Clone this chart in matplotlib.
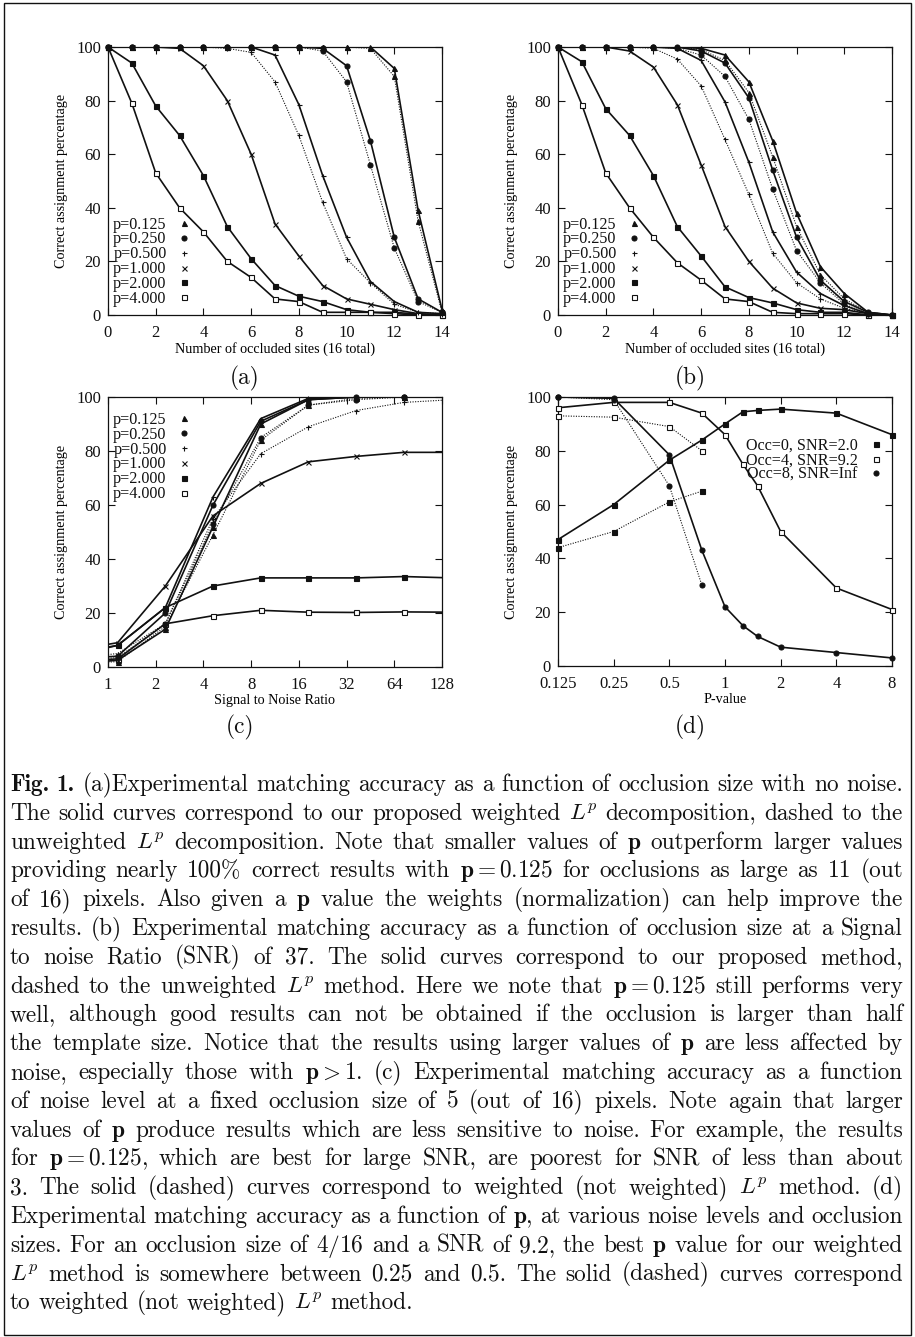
import re

import matplotlib

matplotlib.use("Agg")
import matplotlib.pyplot as plt
import numpy as np
from matplotlib.lines import Line2D
from matplotlib.patches import Rectangle
from matplotlib.ticker import FixedFormatter, FixedLocator, NullLocator

W, H = 915, 1337
INK = "#111111"

plt.rcParams["mathtext.fontset"] = "cm"
plt.rcParams["font.family"] = ["Liberation Serif", "DejaVu Serif"]

# ---- panel (a): occlusion, no noise ----
OCCLUDED = [0, 1, 2, 3, 4, 5, 6, 7, 8, 9, 10, 11, 12, 13, 14]
a_w_0125 = [100, 100, 100, 100, 100, 100, 100, 100, 100, 100, 100, 100, 92, 39, 2]
a_u_0125 = [100, 100, 100, 100, 100, 100, 100, 100, 100, 100, 100, 99.5, 89, 35, 1]
a_w_025 = [100, 100, 100, 100, 100, 100, 100, 100, 100, 99.5, 93, 65, 29, 6, 1]
a_u_025 = [100, 100, 100, 100, 100, 100, 100, 100, 100, 98.5, 87, 56, 25, 5, 1]
a_w_05 = [100, 100, 100, 100, 100, 100, 100, 97, 78.5, 52, 29, 12.5, 5, 1, 0.5]
a_u_05 = [100, 100, 100, 100, 100, 99.5, 98, 87, 67, 42, 21, 12, 4, 1, 0.5]
a_w_1 = [100, 100, 100, 99.5, 93, 80, 60, 34, 22, 11, 6, 4, 2, 0.5, 0]
a_w_2 = [100, 94, 78, 67, 52, 33, 21, 11, 7, 5, 2, 1, 1, 0.3, 0]
a_w_4 = [100, 79, 53, 40, 31, 20, 14, 6, 5, 1, 1, 1, 0.5, 0, 0]

# ---- panel (b): occlusion, SNR 37 ----
b_w_0125 = [100, 100, 100, 100, 100, 100, 99.5, 97, 87, 65, 38, 18, 8, 1, 0]
b_u_0125 = [100, 100, 100, 100, 100, 100, 99, 95, 83, 59, 33, 15, 6, 1, 0]
b_w_025 = [100, 100, 100, 100, 100, 100, 98.5, 94, 81, 54, 29, 13, 5, 1, 0]
b_u_025 = [100, 100, 100, 100, 100, 99.5, 97, 89, 73, 47, 24, 12, 4, 0.5, 0]
b_w_05 = [100, 100, 100, 100, 100, 99.5, 95, 79.5, 57, 31, 16, 8, 3.5, 0.5, 0]
b_u_05 = [100, 100, 100, 100, 99.5, 95.5, 85.5, 65.5, 45, 23, 12, 6, 2.5, 0.5, 0]
b_w_1 = [100, 100, 100, 98.5, 92.5, 78.5, 56, 33, 20, 10, 4.5, 2.5, 2, 0.5, 0]
b_w_2 = [100, 94.5, 77, 67, 52, 33, 22, 10.5, 6.5, 4.5, 2, 1, 1, 0, 0]
b_w_4 = [100, 78.5, 53, 40, 29, 19.5, 13, 6, 5, 1, 0.5, 0.5, 0.5, 0, 0]

# ---- panel (c): noise, occlusion 5 ----
SNR = [0.575, 1.15, 2.3, 4.6, 9.2, 18.4, 36.8, 73.6, 147.2]
c_w_0125 = [1, 2.5, 14, 52, 90, 99, 100, 100, 100]
c_u_0125 = [1, 2, 15, 49, 84, 97, 99.5, 100, 100]
c_w_025 = [3, 4, 20, 60, 91, 99, 100, 100, 100]
c_u_025 = [2, 3.5, 16, 53, 85, 97, 99, 100, 100]
c_w_05 = [4, 8, 22, 63, 92, 99.5, 100, 100, 100]
c_u_05 = [3, 5, 16, 55, 79, 89, 95, 98, 99]
c_w_1 = [6, 9, 30, 56, 68, 76, 78, 79.5, 79.5]
c_w_2 = [5, 8, 22, 30, 33, 33, 33, 33.5, 33]
c_w_4 = [2, 3, 16, 19, 21, 20.3, 20.2, 20.4, 20.3]

# ---- panel (d): accuracy vs p ----
PVAL = [0.125, 0.25, 0.5, 0.75, 1, 1.25, 1.5, 2, 4, 8]
PVAL_U = [0.125, 0.25, 0.5, 0.75]
d_occ0_w = [47, 60, 76.5, 84, 90, 94.5, 95, 95.5, 94, 86]
d_occ0_u = [44, 50, 61, 65]
d_occ4_w = [96, 98, 98, 94, 86, 75, 67, 50, 29, 21]
d_occ4_u = [93, 92.5, 89, 80]
d_occ8_w = [100, 99.5, 78.5, 43, 22, 15, 11, 7, 5, 3]
d_occ8_u = [100, 99, 67, 30]

P_LABELS = ["p=0.125", "p=0.250", "p=0.500", "p=1.000", "p=2.000", "p=4.000"]
P_MARKERS = [("^", True), ("o", True), ("+", True), ("x", True), ("s", True), ("s", False)]
D_LABELS = ["Occ=0, SNR=2.0", "Occ=4, SNR=9.2", "Occ=8, SNR=Inf"]
D_MARKERS = [("s", True), ("s", False), ("o", True)]

TICK_FS = 12
LABEL_FS = 10.2
LEGEND_FS = 11.6
CAP_FS = 16

CAPTION = [
    "Fig. 1. (a)Experimental matching accuracy as a function of occlusion size with no noise.",
    "The solid curves correspond to our proposed weighted $L^p$ decomposition, dashed to the",
    "unweighted $L^p$ decomposition. Note that smaller values of $\\mathbf{p}$ outperform larger values",
    "providing nearly 100% correct results with $\\mathbf{p} = 0.125$ for occlusions as large as 11 (out",
    "of 16) pixels. Also given a $\\mathbf{p}$ value the weights (normalization) can help improve the",
    "results. (b) Experimental matching accuracy as a function of occlusion size at a Signal",
    "to noise Ratio (SNR) of 37. The solid curves correspond to our proposed method,",
    "dashed to the unweighted $L^p$ method. Here we note that $\\mathbf{p} = 0.125$ still performs very",
    "well, although good results can not be obtained if the occlusion is larger than half",
    "the template size. Notice that the results using larger values of $\\mathbf{p}$ are less affected by",
    "noise, especially those with $\\mathbf{p} > 1$. (c) Experimental matching accuracy as a function",
    "of noise level at a fixed occlusion size of 5 (out of 16) pixels. Note again that larger",
    "values of $\\mathbf{p}$ produce results which are less sensitive to noise. For example, the results",
    "for $\\mathbf{p} = 0.125$, which are best for large SNR, are poorest for SNR of less than about",
    "3. The solid (dashed) curves correspond to weighted (not weighted) $L^p$ method. (d)",
    "Experimental matching accuracy as a function of $\\mathbf{p}$, at various noise levels and occlusion",
    "sizes. For an occlusion size of $4/16$ and a SNR of 9.2, the best $\\mathbf{p}$ value for our weighted",
    "$L^p$ method is somewhere between 0.25 and 0.5. The solid (dashed) curves correspond",
    "to weighted (not weighted) $L^p$ method.",
]


def px_axes(fig, left, top, right, bottom):
    return fig.add_axes([left / W, 1 - bottom / H, (right - left) / W, (bottom - top) / H])


def style_axes(ax):
    for sp in ax.spines.values():
        sp.set_linewidth(0.9)
        sp.set_color(INK)
    ax.tick_params(direction="in", top=True, right=True, length=5, width=0.8,
                   labelsize=TICK_FS, colors=INK, pad=5)
    ax.tick_params(axis="x", pad=7)
    ax.set_ylim(0, 100)
    ax.set_yticks([0, 20, 40, 60, 80, 100])
    ax.set_ylabel("Correct assignment percentage", fontsize=LABEL_FS, labelpad=6)


def curve(ax, x, y, marker, filled, dotted=False, xlim=None):
    x = np.asarray(x, dtype=float)
    y = np.asarray(y, dtype=float)
    if dotted:
        ax.plot(x, y, color=INK, lw=0.8, linestyle=(0, (1, 1.3)))
    else:
        ax.plot(x, y, color=INK, lw=1.2)
    m = np.ones_like(x, dtype=bool) if xlim is None else (x >= xlim[0] * 0.999) & (x <= xlim[1] * 1.001)
    ax.plot(x[m], y[m], linestyle="none", marker=marker, ms=3.6, mew=0.8,
            mec=INK, mfc=INK if filled else "white", clip_on=False, zorder=3)


def p_legend(ax, labels, markers, **kw):
    handles = [Line2D([], [], linestyle="none", marker=mk, ms=3.6, mew=0.8, mec=INK,
                      mfc=INK if f else "white") for mk, f in markers]
    leg = ax.legend(handles, labels, frameon=False, markerfirst=False, fontsize=LEGEND_FS,
                    handlelength=0.8, handletextpad=0.7, labelspacing=-0.07,
                    borderpad=0, borderaxespad=0, **kw)
    for t in leg.get_texts():
        t.set_color(INK)
    return leg


def occlusion_panel(ax, weighted, unweighted):
    for (y, (mk, f)) in zip(weighted, P_MARKERS):
        curve(ax, OCCLUDED, y, mk, f)
    for (y, (mk, f)) in zip(unweighted, P_MARKERS):
        curve(ax, OCCLUDED, y, mk, f, dotted=True)
    ax.set_xlim(0, 14)
    ax.set_xticks(range(0, 15, 2))
    ax.set_xlabel("Number of occluded sites (16 total)", fontsize=LABEL_FS, labelpad=1)
    style_axes(ax)
    p_legend(ax, P_LABELS, P_MARKERS, loc="lower left", bbox_to_anchor=(0.015, 0.03))


def draw_caption(fig, lines, left, right, base0, step):
    renderer = fig.canvas.get_renderer()
    token = re.compile(r"(?:\$[^$]*\$|[^\s$])+")
    width = right - left
    rows = []
    for i, line in enumerate(lines):
        words = token.findall(line)
        texts = []
        for j, w in enumerate(words):
            fam = "cmb10" if (i == 0 and j < 2) else "cmr10"
            texts.append(fig.text(0, 1 - (base0 + i * step) / H, w, fontsize=CAP_FS,
                                  family=fam, va="baseline", ha="left", color=INK))
        rows.append(texts)
    # fit the font so the tightest line just fills the measure
    space0 = CAP_FS * 100 / 72 * 0.30
    natural = []
    for texts in rows[:-1]:
        ws = [t.get_window_extent(renderer).width for t in texts]
        natural.append(sum(ws) + space0 * (len(ws) - 1))
    size = CAP_FS * width / max(natural)
    for texts in rows:
        for t in texts:
            t.set_fontsize(size)
    space = size * 100 / 72 * 0.333
    for i, texts in enumerate(rows):
        widths = [t.get_window_extent(renderer).width for t in texts]
        if i == len(rows) - 1:
            gap = space
        else:
            gap = (width - sum(widths)) / (len(texts) - 1)
        x = left
        for t, w in zip(texts, widths):
            t.set_x(x / W)
            x += w + gap
    return size


fig = plt.figure(figsize=(W / 100, H / 100), dpi=100)

# (a)
ax_a = px_axes(fig, 108, 47, 442, 315)
occlusion_panel(ax_a, [a_w_0125, a_w_025, a_w_05, a_w_1, a_w_2, a_w_4],
                [a_u_0125, a_u_025, a_u_05])

# (b)
ax_b = px_axes(fig, 558, 47, 892, 315)
occlusion_panel(ax_b, [b_w_0125, b_w_025, b_w_05, b_w_1, b_w_2, b_w_4],
                [b_u_0125, b_u_025, b_u_05])

# (c)
ax_c = px_axes(fig, 108, 397, 442, 667)
c_lim = (1, 128)
for y, (mk, f) in zip([c_w_0125, c_w_025, c_w_05, c_w_1, c_w_2, c_w_4], P_MARKERS):
    curve(ax_c, SNR, y, mk, f, xlim=c_lim)
for y, (mk, f) in zip([c_u_0125, c_u_025, c_u_05], P_MARKERS):
    curve(ax_c, SNR, y, mk, f, dotted=True, xlim=c_lim)
ax_c.set_xscale("log", base=2)
ax_c.set_xlim(*c_lim)
c_ticks = [1, 2, 4, 8, 16, 32, 64, 128]
ax_c.xaxis.set_major_locator(FixedLocator(c_ticks))
ax_c.xaxis.set_major_formatter(FixedFormatter([str(t) for t in c_ticks]))
ax_c.xaxis.set_minor_locator(NullLocator())
ax_c.set_xlabel("Signal to Noise Ratio", fontsize=LABEL_FS, labelpad=1)
style_axes(ax_c)
p_legend(ax_c, P_LABELS, P_MARKERS, loc="upper left", bbox_to_anchor=(0.015, 0.945))

# (d)
ax_d = px_axes(fig, 558, 397, 892, 666)
d_lim = (0.125, 8)
for y, (mk, f) in zip([d_occ0_w, d_occ4_w, d_occ8_w], D_MARKERS):
    curve(ax_d, PVAL, y, mk, f, xlim=d_lim)
for y, (mk, f) in zip([d_occ0_u, d_occ4_u, d_occ8_u], D_MARKERS):
    curve(ax_d, PVAL_U, y, mk, f, dotted=True, xlim=d_lim)
ax_d.set_xscale("log", base=2)
ax_d.set_xlim(*d_lim)
d_ticks = [0.125, 0.25, 0.5, 1, 2, 4, 8]
ax_d.xaxis.set_major_locator(FixedLocator(d_ticks))
ax_d.xaxis.set_major_formatter(FixedFormatter(["0.125", "0.25", "0.5", "1", "2", "4", "8"]))
ax_d.xaxis.set_minor_locator(NullLocator())
ax_d.set_xlabel("P-value", fontsize=LABEL_FS, labelpad=1)
style_axes(ax_d)
p_legend(ax_d, D_LABELS, D_MARKERS, loc="upper right", bbox_to_anchor=(0.97, 0.85))

cap_size = draw_caption(fig, CAPTION, 10, 903, 791, 28.8)

# sub-figure labels
for label, xc, yc in [("(a)", 245, 378), ("(b)", 690, 378), ("(c)", 240, 727), ("(d)", 690, 727)]:
    fig.text(xc / W, 1 - yc / H, label, fontsize=cap_size, family="cmr10",
             ha="center", va="center", color=INK)

# page frame
fig.patches.append(Rectangle((4 / W, 2 / H), 907 / W, 1332 / H, transform=fig.transFigure,
                             fill=False, lw=1.0, edgecolor=INK))

fig.savefig("out.png", dpi=100)
